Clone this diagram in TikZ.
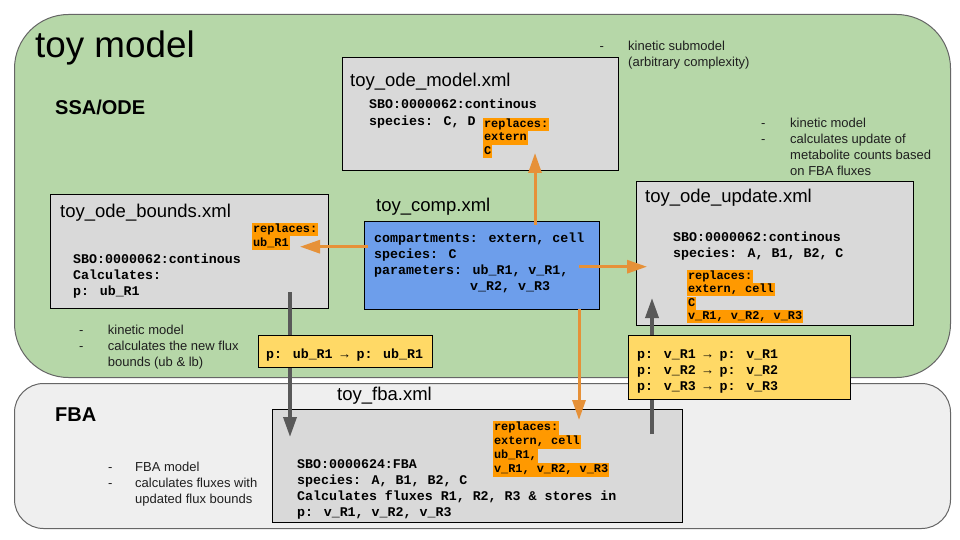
\documentclass[tikz,border=0pt]{standalone}
\usepackage{fontspec}
\setmainfont{Liberation Sans}
\newfontfamily\monofam{Liberation Mono}
\usetikzlibrary{arrows.meta}
\definecolor{greenbg}{HTML}{B6D7A8}
\definecolor{graybg}{HTML}{EFEFEF}
\definecolor{boxgray}{HTML}{D9D9D9}
\definecolor{compblue}{HTML}{6D9EEB}
\definecolor{yellowbox}{HTML}{FFD966}
\definecolor{hlorange}{HTML}{FF9900}
\definecolor{arroworange}{HTML}{E69138}
\definecolor{arrowgray}{HTML}{595959}
\definecolor{rimgray}{HTML}{666666}
\begin{document}
\begin{tikzpicture}[x=1pt,y=-1pt,
 panel/.style={draw=rimgray, line width=1pt, anchor=north west, inner sep=0},
 filebox/.style={draw=black, line width=0.9pt, fill=boxgray, anchor=north west, inner sep=0},
 linkbox/.style={draw=black, line width=0.9pt, fill=yellowbox, anchor=north west, inner sep=0},
 ftitle/.style={font=\fontsize{18.5}{22}\selectfont, anchor=base west, inner sep=0},
 codeline/.style={font=\fontsize{13.3}{16}\monofam\bfseries, anchor=base west, inner sep=0},
 hlline/.style={font=\fontsize{11.9}{13}\monofam\bfseries, fill=hlorange, anchor=base west, inner xsep=0.8pt, inner ysep=0, text height=9.8pt, text depth=3.6pt},
 notetext/.style={font=\fontsize{13}{15.6}\selectfont, anchor=base west, inner sep=0, text=black!88},
 heading/.style={font=\fontsize{20}{24}\selectfont\bfseries, anchor=base west, inner sep=0},
 orangearrow/.style={draw=arroworange, line width=3pt, -{Triangle[length=20pt,width=13pt]}},
 grayarrow/.style={draw=arrowgray, line width=3.5pt, -{Triangle[length=20pt,width=13pt]}},
 ]
\useasboundingbox (0,0) rectangle (960,540);
\fill[white] (0,0) rectangle (960,540);

% panels
\node[panel, fill=greenbg, rounded corners=54pt, minimum width=936pt, minimum height=363pt] (toypanel) at (14,14) {};
\node[panel, fill=graybg, rounded corners=29pt, minimum width=936pt, minimum height=145pt] (fbapanel) at (14,383) {};

\node[font=\fontsize{36.8}{42}\selectfont, anchor=base west, inner sep=0] (toytitle) at (35,57.5) {toy model};
\node[heading] (ssa) at (55,115) {SSA/ODE};
\node[heading] (fbahead) at (55,421.7) {FBA};

% toy_ode_model
\node[filebox, minimum width=276pt, minimum height=113pt] (odemodel) at (342,57) {};
\node[ftitle] (odemodelT) at (350,87) {toy\_ode\_model.xml};
\node[codeline] (odemodel1) at (369,109) {SBO:0000062:continous};
\node[codeline] (odemodel2) at (369,125.5) {species: C, D};
\node[hlline] (odemodelH1) at (483,127.5) {replaces:};
\node[hlline] (odemodelH2) at (483,141) {extern};
\node[hlline] (odemodelH3) at (483,154.5) {C};

% notes submodel
\node[notetext] (subD) at (599.5,51) {-};
\node[notetext] (sub1) at (628,51) {kinetic submodel};
\node[notetext] (sub2) at (628,66.8) {(arbitrary complexity)};

% notes update
\node[notetext] (updD1) at (761,128) {-};
\node[notetext] (updD2) at (761,144) {-};
\node[notetext] (upd1) at (790,128) {kinetic model};
\node[notetext] (upd2) at (790,144) {calculates update of};
\node[notetext] (upd3) at (790,160) {metabolite counts based};
\node[notetext] (upd4) at (790,175.7) {on FBA fluxes};

% toy_ode_update
\node[filebox, minimum width=277pt, minimum height=144pt] (odeupdate) at (636,181) {};
\node[ftitle] (odeupdateT) at (645,202.3) {toy\_ode\_update.xml};
\node[codeline] (odeupdate1) at (673,241.5) {SBO:0000062:continous};
\node[codeline] (odeupdate2) at (673,257.5) {species: A, B1, B2, C};
\node[hlline] (odeupdateH1) at (687,279.4) {replaces:};
\node[hlline] (odeupdateH2) at (687,292.8) {extern, cell};
\node[hlline] (odeupdateH3) at (687,306.4) {C};
\node[hlline] (odeupdateH4) at (687,319.8) {v\_R1, v\_R2, v\_R3};

% toy_ode_bounds
\node[filebox, minimum width=278pt, minimum height=114pt] (odebounds) at (50,194) {};
\node[ftitle] (odeboundsT) at (60,217.3) {toy\_ode\_bounds.xml};
\node[hlline] (odeboundsH1) at (252,232.8) {replaces:};
\node[hlline] (odeboundsH2) at (252,246.1) {ub\_R1};
\node[codeline] (odebounds1) at (73,263.3) {SBO:0000062:continous};
\node[codeline] (odebounds2) at (73,279.3) {Calculates:};
\node[codeline] (odebounds3) at (73,295.3) {p: ub\_R1};

% notes bounds
\node[notetext] (bndD1) at (79,334) {-};
\node[notetext] (bndD2) at (79,350) {-};
\node[notetext] (bnd1) at (107.7,334) {kinetic model};
\node[notetext] (bnd2) at (107.7,350) {calculates the new flux};
\node[notetext] (bnd3) at (107.7,366) {bounds (ub \& lb)};

% toy_comp
\node[ftitle] (compT) at (376,211.7) {toy\_comp.xml};
\node[filebox, fill=compblue, minimum width=235pt, minimum height=88pt] (comp) at (364,221) {};
\node[codeline] (comp1) at (374,242.7) {compartments: extern, cell};
\node[codeline] (comp2) at (374,258.5) {species: C};
\node[codeline] (comp3) at (374,274.5) {parameters: ub\_R1, v\_R1,};
\node[codeline] (comp4) at (470,290.5) {v\_R2, v\_R3};

% toy_fba
\node[ftitle] (fbaT) at (337,400.5) {toy\_fba.xml};
\node[filebox, minimum width=410pt, minimum height=113pt] (fba) at (272,409) {};
\node[hlline] (fbaH1) at (493,430.9) {replaces:};
\node[hlline] (fbaH2) at (493,444.9) {extern, cell};
\node[hlline] (fbaH3) at (493,458.9) {ub\_R1,};
\node[hlline] (fbaH4) at (493,472.9) {v\_R1, v\_R2, v\_R3};
\node[codeline] (fba1) at (297,468.3) {SBO:0000624:FBA};
\node[codeline] (fba2) at (297,484.3) {species: A, B1, B2, C};
\node[codeline] (fba3) at (297,500.3) {Calculates fluxes R1, R2, R3 \& stores in};
\node[codeline] (fba4) at (297,516.3) {p: v\_R1, v\_R2, v\_R3};

% notes FBA
\node[notetext] (fbnD1) at (108,471.7) {-};
\node[notetext] (fbnD2) at (108,487.8) {-};
\node[notetext] (fbn1) at (135,471.7) {FBA model};
\node[notetext] (fbn2) at (135,487.8) {calculates fluxes with};
\node[notetext] (fbn3) at (135,503.5) {updated flux bounds};

% connector end points
\coordinate (compL) at (368,246.7);
\coordinate (boundsIn) at (300,246.7);
\coordinate (compTop) at (535,225);
\coordinate (modelIn) at (535,153);
\coordinate (compR) at (579,266.7);
\coordinate (updateIn) at (647,266.7);
\coordinate (compB) at (579,309);
\coordinate (fbaIn) at (579,420);
\coordinate (boundsOut) at (290,292);
\coordinate (fbaIn2) at (290,437);
\coordinate (fbaOut) at (652,434);
\coordinate (updateIn2) at (652,298);

\draw[orangearrow] (compL) -- (boundsIn);
\draw[orangearrow] (compTop) -- (modelIn);
\draw[orangearrow] (compR) -- (updateIn);
\draw[orangearrow] (compB) -- (fbaIn);
\draw[grayarrow] (boundsOut) -- (fbaIn2);
\draw[grayarrow] (fbaOut) -- (updateIn2);

% replacement links
\node[linkbox, minimum width=174pt, minimum height=32pt] (linkA) at (258,335) {};
\node[codeline] (linkA1) at (266,358) {p: ub\_R1 → p: ub\_R1};
\node[linkbox, minimum width=222pt, minimum height=64pt] (linkB) at (628,335) {};
\node[codeline] (linkB1) at (637,358.3) {p: v\_R1 → p: v\_R1};
\node[codeline] (linkB2) at (637,374.5) {p: v\_R2 → p: v\_R2};
\node[codeline] (linkB3) at (637,390.7) {p: v\_R3 → p: v\_R3};
\end{tikzpicture}
\end{document}
